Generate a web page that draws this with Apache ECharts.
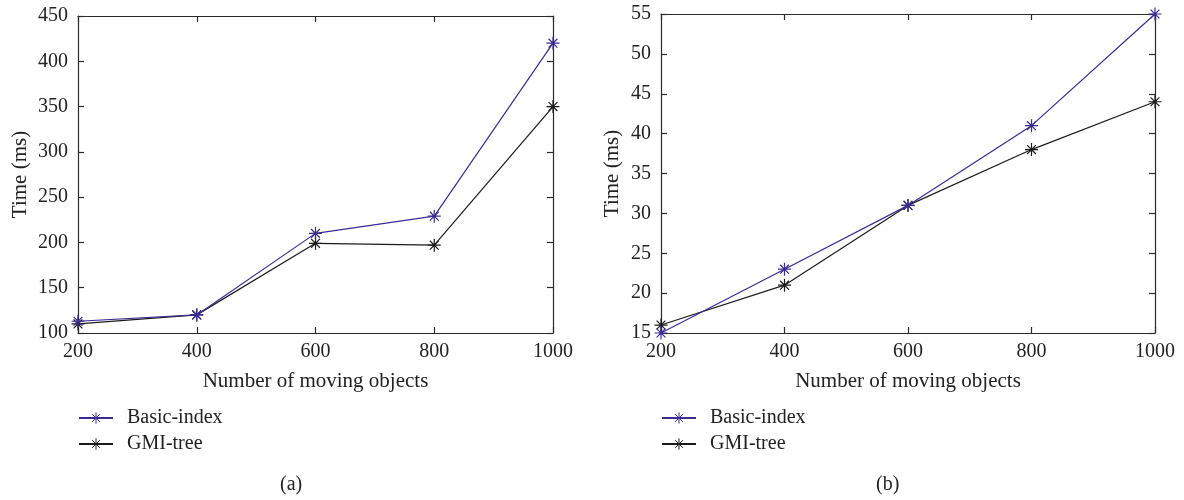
<!DOCTYPE html>
<html>
<head>
<meta charset="utf-8">
<script src="https://cdn.jsdelivr.net/npm/echarts@6/dist/echarts.min.js"></script>
<style>html,body{margin:0;padding:0;background:#fff}#c{width:1184px;height:500px}</style>
</head>
<body>
<div id="c"></div>
<script>
const xValues = [200, 400, 600, 800, 1000];
const basicA = [113, 120, 210, 229, 420];
const gmiA = [110, 120, 199, 197, 350];
const basicB = [15, 23, 31, 41, 55];
const gmiB = [16, 21, 31, 38, 44];
const seriesNames = ['Basic-index', 'GMI-tree'];
const captions = ['(a)', '(b)'];
const xName = 'Number of moving objects';
const yName = 'Time (ms)';

const FONT = 'Liberation Serif';
const AX = '#2a2a2a';
const TXT = '#222';
const PURPLE = '#3b2c94';
const BLACK = '#1c1c1c';
const STAR = 'path://M5,0L5,10M0,5L10,5M1.6,1.6L8.4,8.4M1.6,8.4L8.4,1.6';

const chart = echarts.init(document.getElementById('c'), null, {renderer: 'canvas'});

const grids = [
  {left: 78, top: 16, width: 475, height: 317},
  {left: 661, top: 14, width: 494, height: 319}
];
const yRanges = [{min: 100, max: 450, interval: 50, gap: 47}, {min: 15, max: 55, interval: 5, gap: 38}];

const xAxes = [], yAxes = [];
grids.forEach((g, i) => {
  const base = {
    gridIndex: i, type: 'value', min: 200, max: 1000, interval: 200,
    axisLine: {show: true, lineStyle: {color: AX, width: 1.2}},
    axisTick: {show: true, inside: true, length: 6, lineStyle: {color: AX, width: 1.2}},
    splitLine: {show: false}
  };
  xAxes.push(Object.assign({}, base, {
    position: 'bottom',
    name: xName, nameLocation: 'middle', nameGap: 38,
    nameTextStyle: {fontFamily: FONT, fontSize: 21, color: TXT},
    axisLabel: {fontFamily: FONT, fontSize: 20, color: TXT, margin: 9, formatter: v => String(v)}
  }));
  xAxes.push(Object.assign({}, base, {position: 'top', axisLabel: {show: false}}));
  const r = yRanges[i];
  const ybase = {
    gridIndex: i, type: 'value', min: r.min, max: r.max, interval: r.interval,
    axisLine: {show: true, lineStyle: {color: AX, width: 1.2}},
    axisTick: {show: true, inside: true, length: 6, lineStyle: {color: AX, width: 1.2}},
    splitLine: {show: false}
  };
  yAxes.push(Object.assign({}, ybase, {
    position: 'left',
    name: yName, nameLocation: 'middle', nameGap: r.gap, nameRotate: 90,
    nameTextStyle: {fontFamily: FONT, fontSize: 21, color: TXT},
    axisLabel: {fontFamily: FONT, fontSize: 20, color: TXT, margin: 10}
  }));
  yAxes.push(Object.assign({}, ybase, {position: 'right', axisLabel: {show: false}}));
});

function mk(name, data, gi, color) {
  return {
    name: name, type: 'line',
    xAxisIndex: gi * 2, yAxisIndex: gi * 2,
    data: xValues.map((x, k) => [x, data[k]]),
    symbol: STAR, symbolSize: 13,
    lineStyle: {color: color, width: 1.2},
    itemStyle: {color: color, borderColor: color, borderWidth: 1.2},
    emphasis: {disabled: true},
    animation: false
  };
}

const series = [
  mk(seriesNames[1], gmiA, 0, BLACK),
  mk(seriesNames[0], basicA, 0, PURPLE),
  mk(seriesNames[1], gmiB, 1, BLACK),
  mk(seriesNames[0], basicB, 1, PURPLE)
];

const legendBase = {
  orient: 'vertical', top: 408, padding: 0, itemWidth: 34, itemHeight: 14, itemGap: 6,
  data: seriesNames, selectedMode: false,
  itemStyle: {borderWidth: 1},
  textStyle: {fontFamily: FONT, fontSize: 20, color: TXT, padding: [0, 0, 0, 9]}
};

chart.setOption({
  backgroundColor: '#fff',
  animation: false,
  grid: grids,
  xAxis: xAxes,
  yAxis: yAxes,
  series: series,
  legend: [
    Object.assign({}, legendBase, {left: 78}),
    Object.assign({}, legendBase, {left: 661})
  ],
  graphic: [
    {type: 'text', left: 280, top: 475, style: {text: captions[0], font: '20px "Liberation Serif"', fill: TXT}},
    {type: 'text', left: 876, top: 475, style: {text: captions[1], font: '20px "Liberation Serif"', fill: TXT}}
  ]
});
</script>
</body>
</html>
